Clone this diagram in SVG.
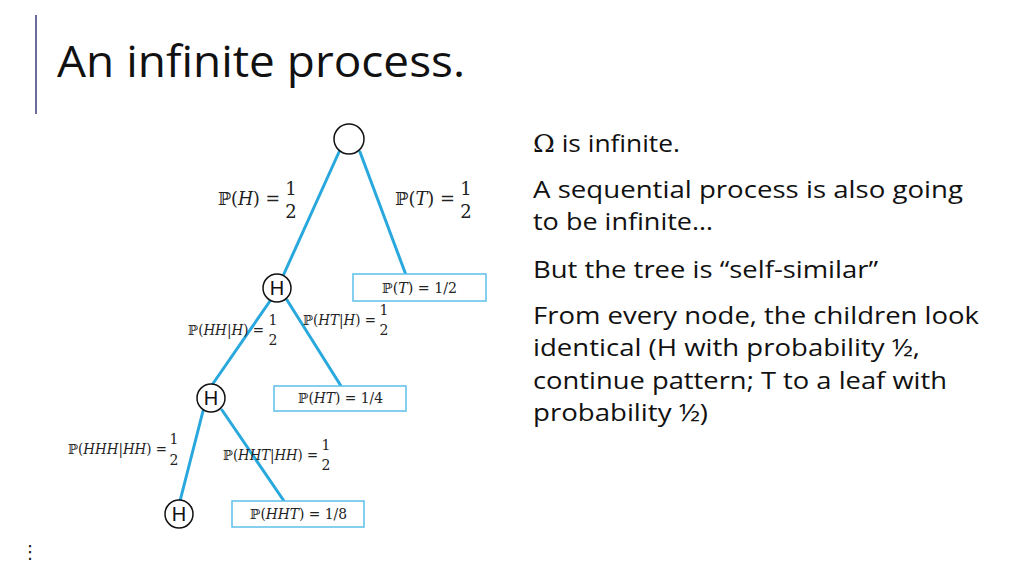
<svg xmlns="http://www.w3.org/2000/svg" width="1024" height="576" viewBox="0 0 1024 576">
<style>
.title{font-family:"Open Sans","Noto Sans",sans-serif;font-size:44px;fill:#111}
.body{font-family:"Open Sans","Noto Sans",sans-serif;font-size:24px;fill:#111}
.m{font-family:"DejaVu Serif","Liberation Serif",serif;fill:#222}
.mb{font-size:18px}
.ms{font-size:14px}
.mi{font-style:italic}
.edge{stroke:#29a8dd;stroke-width:3;fill:none;stroke-linecap:round}
.node{fill:#fff;stroke:#111;stroke-width:1.5}
.leaf{fill:#fff;stroke:#5cc0ea;stroke-width:1.5}
.hl{font-family:"Liberation Sans",Arial,sans-serif;font-size:20px;fill:#111;text-anchor:middle}
</style>
<rect width="1024" height="576" fill="#fff"/>
<line x1="36" y1="15" x2="36" y2="114" stroke="#6b6b9c" stroke-width="2"/>
<text class="title" x="57" y="77" textLength="408" lengthAdjust="spacingAndGlyphs">An infinite process.</text>

<g id="connectors">
<line class="edge" x1="339" y1="152" x2="283" y2="276"/>
<line class="edge" x1="360" y1="152" x2="406" y2="275"/>
<line class="edge" x1="270" y1="301" x2="212" y2="385"/>
<line class="edge" x1="287" y1="300" x2="341" y2="386"/>
<line class="edge" x1="203" y1="411" x2="180" y2="501"/>
<line class="edge" x1="222" y1="410" x2="284" y2="501"/>
</g>

<g id="root"><circle class="node" cx="349" cy="139" r="15"/></g>
<g id="h1"><circle class="node" cx="277" cy="288" r="14"/><text class="hl" x="277" y="295">H</text></g>
<g id="h2"><circle class="node" cx="211" cy="398" r="14"/><text class="hl" x="211" y="405">H</text></g>
<g id="h3"><circle class="node" cx="179" cy="514" r="14"/><text class="hl" x="179" y="521">H</text></g>

<g id="leafT"><rect class="leaf" x="353" y="274" width="133" height="27"/>
<text class="m ms" x="382" y="293" textLength="75" lengthAdjust="spacingAndGlyphs">ℙ(<tspan class="mi">T</tspan>) = 1/2</text></g>
<g id="leafHT"><rect class="leaf" x="274" y="386" width="132" height="25"/>
<text class="m ms" x="298" y="403" textLength="85" lengthAdjust="spacingAndGlyphs">ℙ(<tspan class="mi">HT</tspan>) = 1/4</text></g>
<g id="leafHHT"><rect class="leaf" x="232" y="501" width="132" height="26"/>
<text class="m ms" x="250" y="519" textLength="97" lengthAdjust="spacingAndGlyphs">ℙ(<tspan class="mi">HHT</tspan>) = 1/8</text></g>

<g id="labels">
<text class="m mb" x="218" y="205" textLength="62" lengthAdjust="spacingAndGlyphs">ℙ(<tspan class="mi">H</tspan>) =</text>
<text class="m mb" x="291" y="195" text-anchor="middle">1</text>
<text class="m mb" x="291" y="218" text-anchor="middle">2</text>

<text class="m mb" x="395" y="205" textLength="60" lengthAdjust="spacingAndGlyphs">ℙ(<tspan class="mi">T</tspan>) =</text>
<text class="m mb" x="466" y="195" text-anchor="middle">1</text>
<text class="m mb" x="466" y="218" text-anchor="middle">2</text>

<text class="m ms" x="188" y="335" textLength="76" lengthAdjust="spacingAndGlyphs">ℙ(<tspan class="mi">HH</tspan>|<tspan class="mi">H</tspan>) =</text>
<text class="m ms" x="273" y="325" text-anchor="middle">1</text>
<text class="m ms" x="273" y="345" text-anchor="middle">2</text>

<text class="m ms" x="303" y="325" textLength="73" lengthAdjust="spacingAndGlyphs">ℙ(<tspan class="mi">HT</tspan>|<tspan class="mi">H</tspan>) =</text>
<text class="m ms" x="384" y="315" text-anchor="middle">1</text>
<text class="m ms" x="384" y="335" text-anchor="middle">2</text>

<text class="m ms" x="68" y="454" textLength="99" lengthAdjust="spacingAndGlyphs">ℙ(<tspan class="mi">HHH</tspan>|<tspan class="mi">HH</tspan>) =</text>
<text class="m ms" x="174" y="444" text-anchor="middle">1</text>
<text class="m ms" x="174" y="465" text-anchor="middle">2</text>

<text class="m ms" x="223" y="460" textLength="95" lengthAdjust="spacingAndGlyphs">ℙ(<tspan class="mi">HHT</tspan>|<tspan class="mi">HH</tspan>) =</text>
<text class="m ms" x="326" y="450" text-anchor="middle">1</text>
<text class="m ms" x="326" y="470" text-anchor="middle">2</text>
</g>

<g id="text">
<text class="body" x="533" y="152" textLength="147" lengthAdjust="spacingAndGlyphs"><tspan font-family="DejaVu Serif,serif">Ω</tspan> is infinite.</text>
<text class="body" x="533" y="198" textLength="430" lengthAdjust="spacingAndGlyphs">A sequential process is also going</text>
<text class="body" x="533" y="230" textLength="180" lengthAdjust="spacingAndGlyphs">to be infinite…</text>
<text class="body" x="533" y="278" textLength="345" lengthAdjust="spacingAndGlyphs">But the tree is “self-similar”</text>
<text class="body" x="533" y="324" textLength="446" lengthAdjust="spacingAndGlyphs">From every node, the children look</text>
<text class="body" x="533" y="356" textLength="387" lengthAdjust="spacingAndGlyphs">identical (H with probability ½,</text>
<text class="body" x="533" y="389" textLength="414" lengthAdjust="spacingAndGlyphs">continue pattern; T to a leaf with</text>
<text class="body" x="533" y="421" textLength="175" lengthAdjust="spacingAndGlyphs">probability ½)</text>
</g>
<text x="30" y="558" font-family="DejaVu Sans,sans-serif" font-size="18" text-anchor="middle" fill="#111">⋮</text>
</svg>
